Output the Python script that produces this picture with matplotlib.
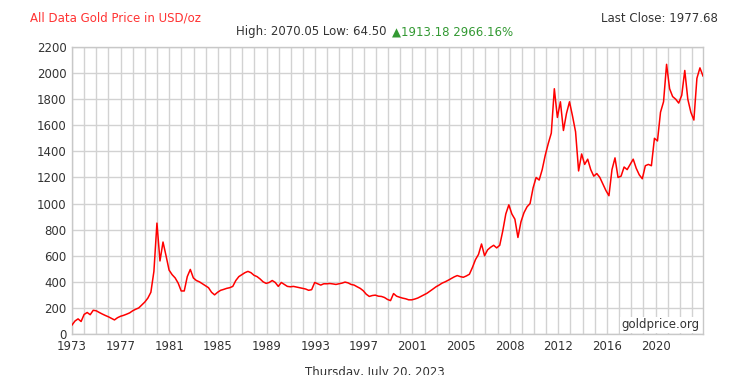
import numpy as np
import matplotlib
matplotlib.use("Agg")
import matplotlib.pyplot as plt
from matplotlib.ticker import MultipleLocator

# ---------------- data ---------------- #
# gold price, USD/oz, sampled at even steps along the (index based) time axis
prices = [
    69, 100, 116, 96, 150, 165, 148, 182, 178, 165,
    153, 142, 132, 120, 108, 125, 136, 143, 152, 162,
    178, 190, 200, 222, 245, 275, 320, 480, 850, 560,
    705, 600, 490, 455, 430, 390, 330, 330, 440, 495,
    430, 410, 400, 385, 370, 355, 320, 300, 320, 335,
    342, 350, 355, 365, 410, 440, 455, 470, 480, 470,
    450, 440, 422, 400, 388, 395, 410, 395, 365, 395,
    380, 365, 362, 365, 360, 355, 350, 345, 335, 340,
    395, 385, 375, 385, 385, 387, 384, 380, 385, 390,
    398, 392, 380, 375, 362, 350, 332, 305, 288, 295,
    298, 290, 288, 280, 265, 256, 310, 290, 282, 275,
    270, 262, 262, 268, 276, 288, 300, 312, 328, 345,
    362, 375, 390, 400, 412, 425, 438, 448, 440, 435,
    445, 458, 510, 570, 610, 690, 600, 645, 665, 680,
    660, 680, 790, 920, 990, 920, 880, 740, 860, 930,
    975, 1000, 1120, 1200, 1180, 1260, 1370, 1460, 1540, 1880,
    1660, 1780, 1560, 1690, 1780, 1670, 1550, 1250, 1380, 1300,
    1340, 1260, 1210, 1230, 1200, 1150, 1100, 1060, 1260, 1350,
    1200, 1210, 1280, 1260, 1300, 1340, 1270, 1220, 1190, 1290,
    1300, 1290, 1500, 1480, 1700, 1780, 2067, 1880, 1820, 1800,
    1770, 1830, 2020, 1800, 1700, 1640, 1960, 2040, 1978,
]

axis_end = 51.9                      # number of yearly grid steps shown
tick_pos = list(range(0, 49, 4))
tick_labels = ['1973', '1977', '1981', '1985', '1989', '1993', '1997',
               '2001', '2005', '2008', '2012', '2016', '2020']

title_left = 'All Data Gold Price in USD/oz'
title_right = 'Last Close: 1977.68'
stats_text = 'High: 2070.05 Low: 64.50 '
change_text = '\u25b21913.18 2966.16%'
date_text = 'Thursday, July 20, 2023'

# ---------------- figure ---------------- #
fig = plt.figure(figsize=(7.5, 3.75), dpi=100)
ax = fig.add_axes([0.096, 0.1093, 0.8413, 0.7654])

x = np.linspace(0, axis_end, len(prices))
ax.plot(x, prices, color='#ff0000', linewidth=1.1, zorder=3)

ax.set_xlim(0, axis_end)
ax.set_ylim(0, 2200)
ax.set_xticks(tick_pos)
ax.set_xticklabels(tick_labels)
ax.xaxis.set_minor_locator(MultipleLocator(1))
ax.yaxis.set_major_locator(MultipleLocator(200))

ax.grid(True, which='both', axis='x', color='#d2d2d2', linewidth=1.0)
ax.grid(True, which='major', axis='y', color='#d2d2d2', linewidth=1.0)
ax.set_axisbelow(True)

for s in ax.spines.values():
    s.set_color('#c8c8c8')
    s.set_linewidth(1.0)

ax.tick_params(which='both', length=0)
ax.tick_params(axis='y', pad=4, labelsize=8.5, labelcolor='#333333')
ax.tick_params(axis='x', pad=4, labelsize=8.5, labelcolor='#333333')

ax.text(0.995, 0.01, 'goldprice.org', transform=ax.transAxes,
        ha='right', va='bottom', fontsize=8.5, color='#333333', zorder=4,
        bbox=dict(facecolor='white', edgecolor='none', pad=1.0))

# header texts
fig.text(0.04, 0.952, title_left, ha='left', va='center',
         fontsize=8.5, color='#ff3333')
fig.text(0.957, 0.952, title_right, ha='right', va='center',
         fontsize=8.5, color='#333333')
fig.text(0.52, 0.915, stats_text, ha='right', va='center',
         fontsize=8.5, color='#333333')
fig.text(0.522, 0.915, change_text, ha='left', va='center',
         fontsize=8.5, color='#339933')

fig.text(0.5, 0.024, date_text, ha='center', va='top',
         fontsize=8.5, color='#333333')

fig.savefig('out.png', dpi=100)
